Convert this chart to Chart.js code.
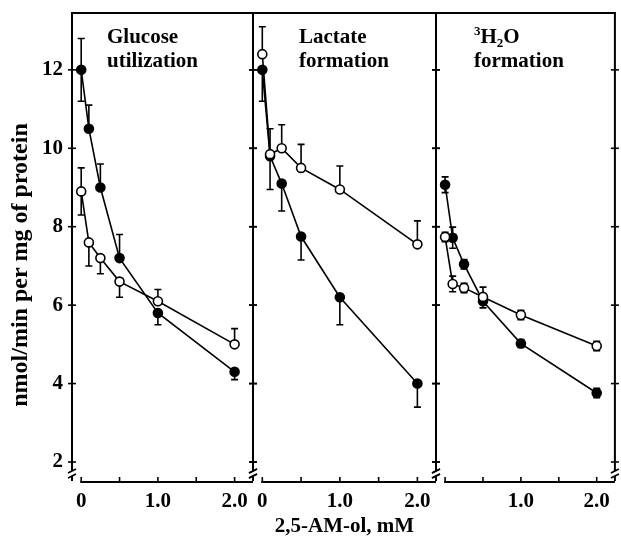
<!DOCTYPE html>
<html>
<head>
<meta charset="utf-8">
<script src="https://cdn.jsdelivr.net/npm/chart.js@4.4.1/dist/chart.umd.min.js"></script>
<style>
  html, body { margin: 0; padding: 0; background: #fff; }
  #wrap { position: relative; width: 621px; height: 540px; overflow: hidden; }
  canvas { position: absolute; top: 0; }
</style>
</head>
<body>
<div id="wrap">
  <canvas id="c1" style="left:0px" width="260" height="540"></canvas>
  <canvas id="c2" style="left:245px" width="200" height="540"></canvas>
  <canvas id="c3" style="left:428px" width="193" height="540"></canvas>
</div>
<script>
// ======= DATA =======
const doses = [0, 0.1, 0.25, 0.5, 1, 2];          // 2,5-AM-ol, mM
const yTicks = [2, 4, 6, 8, 10, 12];
const xTicks = [0, 0.5, 1, 1.5, 2];
const xLabelValues = [0, 1, 2];
const xLabels = ['0', '1.0', '2.0'];

// Glucose utilization
const glucoseFilled = [12.0, 10.5, 9.0, 7.2, 5.8, 4.3];
const glucoseFilledErr = [0.8, 0.6, 0.6, 0.6, 0.3, 0.2];
const glucoseFilledDir = [0, 1, 1, 1, -1, -1];
const glucoseOpen = [8.9, 7.6, 7.2, 6.6, 6.1, 5.0];
const glucoseOpenErr = [0.6, 0.6, 0.4, 0.4, 0.3, 0.4];
const glucoseOpenDir = [0, -1, -1, -1, 1, 1];

// Lactate formation
const lactateFilled = [12.0, 9.8, 9.1, 7.75, 6.2, 4.0];
const lactateFilledErr = [0.8, 0.85, 0.7, 0.6, 0.7, 0.6];
const lactateFilledDir = [-1, -1, -1, -1, -1, -1];
const lactateOpen = [12.4, 9.85, 10.0, 9.5, 8.95, 7.55];
const lactateOpenErr = [0.7, 0.65, 0.6, 0.6, 0.6, 0.6];
const lactateOpenDir = [1, 1, 1, 1, 1, 1];

// 3H2O formation
const waterFilled = [9.07, 7.72, 7.04, 6.1, 5.02, 3.76];
const waterFilledErr = [0.2, 0.27, 0.12, 0.17, 0.1, 0.12];
const waterFilledDir = [0, 0, 0, -1, 0, 0];
const waterOpen = [7.74, 6.54, 6.44, 6.21, 5.75, 4.96];
const waterOpenErr = [0.12, 0.2, 0.12, 0.25, 0.12, 0.12];
const waterOpenDir = [0, 0, 0, 1, 0, 0];

const yTitle = 'nmol/min per mg of protein';
const xTitle = '2,5-AM-ol, mM';

// ======= LAYOUT =======
const X_MIN = -0.12, X_MAX = 2.24;
const Y_MIN = 1.49, Y_MAX = 13.45;
const FONT = "'Liberation Serif', 'Times New Roman', serif";

const panels = [
  {
    id: 'c1', title: ['Glucose', 'utilization'], titleDx: 35, yLabels: true, xLabelFrom: 0,
    pad: { left: 72, right: 7, top: 13, bottom: 58 },
    filled: glucoseFilled, filledErr: glucoseFilledErr, filledDir: glucoseFilledDir,
    open: glucoseOpen, openErr: glucoseOpenErr, openDir: glucoseOpenDir
  },
  {
    id: 'c2', title: ['Lactate', 'formation'], titleDx: 46, xTitle: true, xLabelFrom: 0,
    pad: { left: 8, right: 9, top: 13, bottom: 58 },
    filled: lactateFilled, filledErr: lactateFilledErr, filledDir: lactateFilledDir,
    open: lactateOpen, openErr: lactateOpenErr, openDir: lactateOpenDir
  },
  {
    id: 'c3', title: ['\u00B3H\u2082O', 'formation'], titleDx: 38, xLabelFrom: 1,
    pad: { left: 8, right: 3, top: 13, bottom: 58 },
    filled: waterFilled, filledErr: waterFilledErr, filledDir: waterFilledDir,
    open: waterOpen, openErr: waterOpenErr, openDir: waterOpenDir
  }
];

const toPoints = ys => doses.map((x, i) => ({ x: x, y: ys[i] }));

// text with ³ as superscript and ₂ as subscript
function drawRich(ctx, text, x, y, size) {
  let cx = x;
  for (const ch of text) {
    if (ch === '\u00B3' || ch === '\u2082') {
      const small = Math.round(size * 0.62);
      ctx.font = `bold ${small}px ${FONT}`;
      const c = ch === '\u00B3' ? '3' : '2';
      ctx.fillText(c, cx, ch === '\u00B3' ? y - size * 0.36 : y + size * 0.18);
      cx += ctx.measureText(c).width;
    } else {
      ctx.font = `bold ${size}px ${FONT}`;
      ctx.fillText(ch, cx, y);
      cx += ctx.measureText(ch).width;
    }
  }
}

function makeDeco(panel) {
  return {
    id: 'panelDeco',
    beforeDatasetsDraw(chart) {
      // error bars
      const ctx = chart.ctx;
      const xs = chart.scales.x, ys = chart.scales.y;
      ctx.save();
      ctx.strokeStyle = '#000';
      ctx.lineWidth = 1.6;
      const bars = [[panel.open, panel.openErr, panel.openDir], [panel.filled, panel.filledErr, panel.filledDir]];
      bars.forEach(([vals, errs, dirs]) => {
        vals.forEach((v, i) => {
          const px = xs.getPixelForValue(doses[i]);
          const ends = [];
          if (dirs[i] >= 0) ends.push(v + errs[i]);
          if (dirs[i] <= 0) ends.push(v - errs[i]);
          ends.forEach(e => {
            const py0 = ys.getPixelForValue(v), py1 = ys.getPixelForValue(e);
            ctx.beginPath();
            ctx.moveTo(px, py0); ctx.lineTo(px, py1);
            ctx.moveTo(px - 3.5, py1); ctx.lineTo(px + 3.5, py1);
            ctx.stroke();
          });
        });
      });
      ctx.restore();
    },
    afterDatasetsDraw(chart) {
      const ctx = chart.ctx;
      const a = chart.chartArea;
      const xs = chart.scales.x, ys = chart.scales.y;
      ctx.save();
      ctx.strokeStyle = '#000';
      ctx.fillStyle = '#000';
      ctx.lineWidth = 2;

      // top border
      ctx.beginPath();
      ctx.moveTo(a.left - 1, a.top); ctx.lineTo(a.right + 1, a.top);
      ctx.stroke();

      // side borders with axis break near the bottom
      [a.left, a.right].forEach(bx => {
        ctx.lineWidth = 2;
        ctx.beginPath();
        ctx.moveTo(bx, a.top); ctx.lineTo(bx, a.bottom - 11);
        ctx.moveTo(bx, a.bottom - 6); ctx.lineTo(bx, a.bottom - 1);
        ctx.stroke();
        ctx.lineWidth = 1.6;
        ctx.beginPath();
        ctx.moveTo(bx - 4, a.bottom - 9); ctx.lineTo(bx + 4, a.bottom - 13);
        ctx.moveTo(bx - 4, a.bottom - 4); ctx.lineTo(bx + 4, a.bottom - 8);
        ctx.stroke();
        // y ticks crossing the border
        ctx.lineWidth = 1.6;
        yTicks.forEach(t => {
          const py = ys.getPixelForValue(t);
          ctx.beginPath();
          ctx.moveTo(bx - 4, py); ctx.lineTo(bx + 4, py);
          ctx.stroke();
        });
      });

      // x axis line and ticks
      const x0 = xs.getPixelForValue(0) - 1;
      ctx.lineWidth = 2;
      ctx.beginPath();
      ctx.moveTo(x0, a.bottom); ctx.lineTo(a.right, a.bottom);
      ctx.stroke();
      ctx.lineWidth = 1.6;
      xTicks.forEach(t => {
        const px = xs.getPixelForValue(t);
        ctx.beginPath();
        ctx.moveTo(px, a.bottom); ctx.lineTo(px, a.bottom - 5);
        ctx.stroke();
      });

      // x tick labels
      ctx.font = `bold 21px ${FONT}`;
      ctx.textAlign = 'center';
      ctx.textBaseline = 'middle';
      xLabelValues.forEach((v, i) => {
        if (i < panel.xLabelFrom) return;
        ctx.fillText(xLabels[i], xs.getPixelForValue(v), a.bottom + 20);
      });

      // y tick labels and axis title (first panel only)
      if (panel.yLabels) {
        ctx.textAlign = 'right';
        yTicks.forEach(t => ctx.fillText(String(t), a.left - 9, ys.getPixelForValue(t)));
        ctx.save();
        ctx.translate(21, 265);
        ctx.rotate(-Math.PI / 2);
        ctx.textAlign = 'center';
        ctx.font = `bold 24px ${FONT}`;
        ctx.fillText(yTitle, 0, 0);
        ctx.restore();
      }

      if (panel.xTitle) {
        ctx.textAlign = 'center';
        ctx.font = `bold 21px ${FONT}`;
        ctx.fillText(xTitle, (a.left + a.right) / 2, a.bottom + 45);
      }

      // panel title
      ctx.textAlign = 'left';
      ctx.textBaseline = 'alphabetic';
      drawRich(ctx, panel.title[0], a.left + panel.titleDx, 43, 21);
      drawRich(ctx, panel.title[1], a.left + panel.titleDx, 67, 21);

      ctx.restore();
    }
  };
}

function makePanel(panel) {
  const common = {
    showLine: true,
    borderColor: '#000',
    borderWidth: 1.6,
    pointRadius: 4.5,
    pointBorderColor: '#000',
    pointBorderWidth: 1.6,
    tension: 0
  };
  return new Chart(document.getElementById(panel.id), {
    type: 'scatter',
    data: {
      datasets: [
        Object.assign({ data: toPoints(panel.open), pointBackgroundColor: '#fff' }, common),
        Object.assign({ data: toPoints(panel.filled), pointBackgroundColor: '#000' }, common)
      ]
    },
    options: {
      responsive: false,
      animation: false,
      layout: { padding: panel.pad },
      plugins: { legend: { display: false }, tooltip: { enabled: false } },
      scales: {
        x: { type: 'linear', display: false, min: X_MIN, max: X_MAX },
        y: { type: 'linear', display: false, min: Y_MIN, max: Y_MAX }
      }
    },
    plugins: [makeDeco(panel)]
  });
}

panels.forEach(makePanel);
</script>
</body>
</html>
